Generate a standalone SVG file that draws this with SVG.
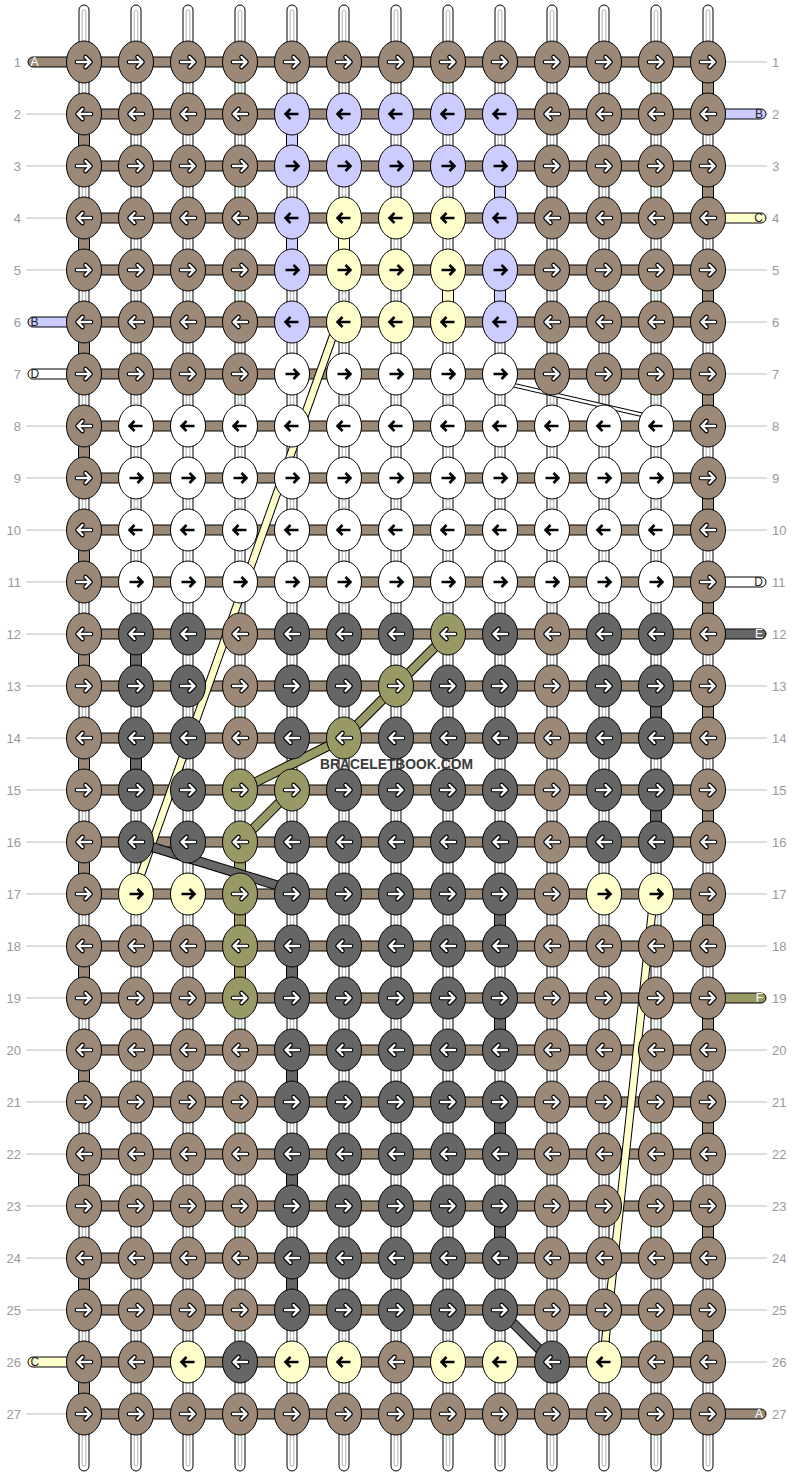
<svg xmlns="http://www.w3.org/2000/svg" width="792" height="1476" viewBox="0 0 792 1476">
<style>
.b{fill:#9b8877}.u{fill:#ccccff}.y{fill:#ffffcc}.d{fill:#666666}.o{fill:#999966}.w{fill:#ffffff}
.hc{fill:#9b8877;stroke:#000;stroke-width:1}
.vc{stroke:#000;stroke-width:1}
.gl{stroke:#bbbbbb;stroke-width:1}
.num{font-family:"Liberation Sans",Arial,sans-serif;font-size:13px;fill:#999999}
.ln{font-family:"Liberation Sans",Arial,sans-serif;font-size:12px}
.dk{fill:#222222}.lt{fill:#ffffff}
.cap{stroke:#000;stroke-width:1}
</style>
<defs>
<g id="vs"><rect x="-5" y="5" width="10" height="1466" rx="5" fill="#ffffff" stroke="#000000"/><rect x="-1.8" y="10" width="3.6" height="1456" rx="1.8" fill="none" stroke="#b0b0b0"/></g>
<g id="R"><ellipse rx="17.5" ry="21" stroke="#000000" stroke-width="1"/><path d="M-7,0H6M1.5,-5L6.5,0L1.5,5" fill="none" stroke="#000000" stroke-width="4.6" stroke-linejoin="round" stroke-linecap="round"/><path d="M-7,0H6M1.5,-5L6.5,0L1.5,5" fill="none" stroke="#ffffff" stroke-width="2.4" stroke-linejoin="round" stroke-linecap="round"/></g>
<g id="L"><ellipse rx="17.5" ry="21" stroke="#000000" stroke-width="1"/><path d="M7,0H-6M-1.5,-5L-6.5,0L-1.5,5" fill="none" stroke="#000000" stroke-width="4.6" stroke-linejoin="round" stroke-linecap="round"/><path d="M7,0H-6M-1.5,-5L-6.5,0L-1.5,5" fill="none" stroke="#ffffff" stroke-width="2.4" stroke-linejoin="round" stroke-linecap="round"/></g>
<g id="r"><ellipse rx="17.5" ry="21" stroke="#000000" stroke-width="1"/><path d="M-6.5,0H6M1.5,-5L6.5,0L1.5,5" fill="none" stroke="#000000" stroke-width="2.6" stroke-linejoin="miter"/></g>
<g id="l"><ellipse rx="17.5" ry="21" stroke="#000000" stroke-width="1"/><path d="M6.5,0H-6M-1.5,-5L-6.5,0L-1.5,5" fill="none" stroke="#000000" stroke-width="2.6" stroke-linejoin="miter"/></g>
</defs>
<rect width="792" height="1476" fill="#ffffff"/>

<g id="guides">
<g class="gl">
<line x1="26" y1="114" x2="67" y2="114"/><line x1="26" y1="166" x2="67" y2="166"/><line x1="26" y1="218" x2="67" y2="218"/><line x1="26" y1="270" x2="67" y2="270"/>
<line x1="26" y1="426" x2="67" y2="426"/><line x1="26" y1="478" x2="67" y2="478"/><line x1="26" y1="530" x2="67" y2="530"/><line x1="26" y1="582" x2="67" y2="582"/><line x1="26" y1="634" x2="67" y2="634"/><line x1="26" y1="686" x2="67" y2="686"/><line x1="26" y1="738" x2="67" y2="738"/><line x1="26" y1="790" x2="67" y2="790"/><line x1="26" y1="842" x2="67" y2="842"/><line x1="26" y1="894" x2="67" y2="894"/><line x1="26" y1="946" x2="67" y2="946"/><line x1="26" y1="998" x2="67" y2="998"/><line x1="26" y1="1050" x2="67" y2="1050"/><line x1="26" y1="1102" x2="67" y2="1102"/><line x1="26" y1="1154" x2="67" y2="1154"/><line x1="26" y1="1206" x2="67" y2="1206"/><line x1="26" y1="1258" x2="67" y2="1258"/><line x1="26" y1="1310" x2="67" y2="1310"/><line x1="26" y1="1414" x2="67" y2="1414"/>
<line x1="725" y1="62" x2="767" y2="62"/><line x1="725" y1="166" x2="767" y2="166"/><line x1="725" y1="270" x2="767" y2="270"/><line x1="725" y1="322" x2="767" y2="322"/><line x1="725" y1="374" x2="767" y2="374"/><line x1="725" y1="426" x2="767" y2="426"/><line x1="725" y1="478" x2="767" y2="478"/><line x1="725" y1="530" x2="767" y2="530"/><line x1="725" y1="686" x2="767" y2="686"/><line x1="725" y1="738" x2="767" y2="738"/><line x1="725" y1="790" x2="767" y2="790"/><line x1="725" y1="842" x2="767" y2="842"/><line x1="725" y1="894" x2="767" y2="894"/><line x1="725" y1="946" x2="767" y2="946"/><line x1="725" y1="1050" x2="767" y2="1050"/><line x1="725" y1="1102" x2="767" y2="1102"/><line x1="725" y1="1154" x2="767" y2="1154"/><line x1="725" y1="1206" x2="767" y2="1206"/><line x1="725" y1="1258" x2="767" y2="1258"/><line x1="725" y1="1310" x2="767" y2="1310"/><line x1="725" y1="1362" x2="767" y2="1362"/>
</g>
<g class="num" text-anchor="end">
<text x="21" y="66.5">1</text><text x="21" y="118.5">2</text><text x="21" y="170.5">3</text><text x="21" y="222.5">4</text><text x="21" y="274.5">5</text><text x="21" y="326.5">6</text><text x="21" y="378.5">7</text><text x="21" y="430.5">8</text><text x="21" y="482.5">9</text><text x="21" y="534.5">10</text><text x="21" y="586.5">11</text><text x="21" y="638.5">12</text><text x="21" y="690.5">13</text><text x="21" y="742.5">14</text><text x="21" y="794.5">15</text><text x="21" y="846.5">16</text><text x="21" y="898.5">17</text><text x="21" y="950.5">18</text><text x="21" y="1002.5">19</text><text x="21" y="1054.5">20</text><text x="21" y="1106.5">21</text><text x="21" y="1158.5">22</text><text x="21" y="1210.5">23</text><text x="21" y="1262.5">24</text><text x="21" y="1314.5">25</text><text x="21" y="1366.5">26</text><text x="21" y="1418.5">27</text>
</g>
<g class="num">
<text x="772" y="66.5">1</text><text x="772" y="118.5">2</text><text x="772" y="170.5">3</text><text x="772" y="222.5">4</text><text x="772" y="274.5">5</text><text x="772" y="326.5">6</text><text x="772" y="378.5">7</text><text x="772" y="430.5">8</text><text x="772" y="482.5">9</text><text x="772" y="534.5">10</text><text x="772" y="586.5">11</text><text x="772" y="638.5">12</text><text x="772" y="690.5">13</text><text x="772" y="742.5">14</text><text x="772" y="794.5">15</text><text x="772" y="846.5">16</text><text x="772" y="898.5">17</text><text x="772" y="950.5">18</text><text x="772" y="1002.5">19</text><text x="772" y="1054.5">20</text><text x="772" y="1106.5">21</text><text x="772" y="1158.5">22</text><text x="772" y="1210.5">23</text><text x="772" y="1262.5">24</text><text x="772" y="1314.5">25</text><text x="772" y="1366.5">26</text><text x="772" y="1418.5">27</text>
</g>
</g>

<g id="connectors">
<g id="strings">
<use href="#vs" x="84"/><use href="#vs" x="136"/><use href="#vs" x="188"/><use href="#vs" x="240"/><use href="#vs" x="292"/><use href="#vs" x="344"/><use href="#vs" x="396"/><use href="#vs" x="448"/><use href="#vs" x="500"/><use href="#vs" x="552"/><use href="#vs" x="604"/><use href="#vs" x="656"/><use href="#vs" x="708"/>
</g>
<g id="ends" class="cap">
<path class="b" d="M84,57H33a5,5 0 0 0 0,10H84z"/>
<path class="u" d="M84,317H33a5,5 0 0 0 0,10H84z"/>
<path class="w" d="M84,369H33a5,5 0 0 0 0,10H84z"/>
<path class="y" d="M84,1357H33a5,5 0 0 0 0,10H84z"/>
<path class="u" d="M708,109H761a5,5 0 0 1 0,10H708z"/>
<path class="y" d="M708,213H761a5,5 0 0 1 0,10H708z"/>
<path class="w" d="M708,577H761a5,5 0 0 1 0,10H708z"/>
<path class="d" d="M708,629H761a5,5 0 0 1 0,10H708z"/>
<path class="o" d="M708,993H761a5,5 0 0 1 0,10H708z"/>
<path class="b" d="M708,1409H761a5,5 0 0 1 0,10H708z"/>
</g>
<g id="rows" class="hc">
<rect x="84" y="57" width="624" height="10"/><rect x="84" y="109" width="624" height="10"/><rect x="84" y="161" width="624" height="10"/><rect x="84" y="213" width="624" height="10"/><rect x="84" y="265" width="624" height="10"/><rect x="84" y="317" width="624" height="10"/><rect x="84" y="369" width="624" height="10"/><rect x="84" y="421" width="624" height="10"/><rect x="84" y="473" width="624" height="10"/><rect x="84" y="525" width="624" height="10"/><rect x="84" y="577" width="624" height="10"/><rect x="84" y="629" width="624" height="10"/><rect x="84" y="681" width="624" height="10"/><rect x="84" y="733" width="624" height="10"/><rect x="84" y="785" width="624" height="10"/><rect x="84" y="837" width="624" height="10"/><rect x="84" y="889" width="624" height="10"/><rect x="84" y="941" width="624" height="10"/><rect x="84" y="993" width="624" height="10"/><rect x="84" y="1045" width="624" height="10"/><rect x="84" y="1097" width="624" height="10"/><rect x="84" y="1149" width="624" height="10"/><rect x="84" y="1201" width="624" height="10"/><rect x="84" y="1253" width="624" height="10"/><rect x="84" y="1305" width="624" height="10"/><rect x="84" y="1357" width="624" height="10"/><rect x="84" y="1409" width="624" height="10"/>
</g>
<g id="verticals" class="vc">
<g class="b">
<rect x="78.5" y="114" width="11" height="52"/><rect x="78.5" y="218" width="11" height="52"/><rect x="78.5" y="322" width="11" height="52"/><rect x="78.5" y="426" width="11" height="52"/><rect x="78.5" y="530" width="11" height="52"/><rect x="78.5" y="634" width="11" height="52"/><rect x="78.5" y="738" width="11" height="52"/><rect x="78.5" y="842" width="11" height="52"/><rect x="78.5" y="946" width="11" height="52"/><rect x="78.5" y="1050" width="11" height="52"/><rect x="78.5" y="1154" width="11" height="52"/><rect x="78.5" y="1258" width="11" height="52"/><rect x="78.5" y="1362" width="11" height="52"/>
<rect x="702.5" y="62" width="11" height="52"/><rect x="702.5" y="166" width="11" height="52"/><rect x="702.5" y="270" width="11" height="52"/><rect x="702.5" y="374" width="11" height="52"/><rect x="702.5" y="478" width="11" height="52"/><rect x="702.5" y="582" width="11" height="52"/><rect x="702.5" y="686" width="11" height="52"/><rect x="702.5" y="790" width="11" height="52"/><rect x="702.5" y="894" width="11" height="52"/><rect x="702.5" y="998" width="11" height="52"/><rect x="702.5" y="1102" width="11" height="52"/><rect x="702.5" y="1206" width="11" height="52"/><rect x="702.5" y="1310" width="11" height="52"/>
</g>
<g class="u"><rect x="286.5" y="114" width="11" height="52"/><rect x="494.5" y="166" width="11" height="52"/><rect x="286.5" y="218" width="11" height="52"/><rect x="494.5" y="270" width="11" height="52"/></g>
<g class="y"><rect x="338.5" y="218" width="11" height="52"/><rect x="442.5" y="270" width="11" height="52"/></g>
<g class="d"><rect x="130.5" y="634" width="11" height="52"/><rect x="650.5" y="686" width="11" height="52"/><rect x="130.5" y="738" width="11" height="52"/><rect x="650.5" y="790" width="11" height="52"/><rect x="494.5" y="894" width="11" height="52"/><rect x="286.5" y="946" width="11" height="52"/><rect x="494.5" y="998" width="11" height="52"/><rect x="286.5" y="1050" width="11" height="52"/><rect x="494.5" y="1102" width="11" height="52"/><rect x="286.5" y="1154" width="11" height="52"/><rect x="494.5" y="1206" width="11" height="52"/><rect x="286.5" y="1258" width="11" height="52"/></g>
<g class="o"><rect x="234.5" y="842" width="11" height="52"/><rect x="234.5" y="894" width="11" height="52"/><rect x="234.5" y="946" width="11" height="52"/></g>
</g>
<g id="diagonals" fill="none" stroke-linecap="butt" stroke-linejoin="round">
<line x1="338" y1="322" x2="134" y2="894" stroke="#000" stroke-width="8.5"/><line x1="338" y1="322" x2="134" y2="894" stroke="#ffffcc" stroke-width="6.5"/>
<line x1="654" y1="894" x2="603" y2="1362" stroke="#000" stroke-width="8.5"/><line x1="654" y1="894" x2="603" y2="1362" stroke="#ffffcc" stroke-width="6.5"/>
<line x1="500" y1="382" x2="656" y2="418" stroke="#000" stroke-width="4.5"/><line x1="500" y1="382" x2="656" y2="418" stroke="#ffffff" stroke-width="2.5"/>
<polyline points="448,634 396,686 344,738 240,790" stroke="#000" stroke-width="10"/><polyline points="448,634 396,686 344,738 240,790" stroke="#999966" stroke-width="8"/>
<line x1="292" y1="790" x2="240" y2="842" stroke="#000" stroke-width="10"/><line x1="292" y1="790" x2="240" y2="842" stroke="#999966" stroke-width="8"/>
<line x1="136" y1="842" x2="292" y2="890" stroke="#000" stroke-width="10"/><line x1="136" y1="842" x2="292" y2="890" stroke="#666666" stroke-width="8"/>
<line x1="500" y1="1310" x2="552" y2="1362" stroke="#000" stroke-width="10"/><line x1="500" y1="1310" x2="552" y2="1362" stroke="#666666" stroke-width="8"/>
</g>
</g>

<g id="knots">
<g id="row1" transform="translate(0,62)">
<g id="k1-1" class="b"><use href="#R" x="84"/></g><g id="k1-2" class="b"><use href="#R" x="136"/></g><g id="k1-3" class="b"><use href="#R" x="188"/></g><g id="k1-4" class="b"><use href="#R" x="240"/></g><g id="k1-5" class="b"><use href="#R" x="292"/></g><g id="k1-6" class="b"><use href="#R" x="344"/></g><g id="k1-7" class="b"><use href="#R" x="396"/></g><g id="k1-8" class="b"><use href="#R" x="448"/></g><g id="k1-9" class="b"><use href="#R" x="500"/></g><g id="k1-10" class="b"><use href="#R" x="552"/></g><g id="k1-11" class="b"><use href="#R" x="604"/></g><g id="k1-12" class="b"><use href="#R" x="656"/></g><g id="k1-13" class="b"><use href="#R" x="708"/></g>
</g>
<g id="row2" transform="translate(0,114)">
<g id="k2-1" class="b"><use href="#L" x="84"/></g><g id="k2-2" class="b"><use href="#L" x="136"/></g><g id="k2-3" class="b"><use href="#L" x="188"/></g><g id="k2-4" class="b"><use href="#L" x="240"/></g><g id="k2-5" class="u"><use href="#l" x="292"/></g><g id="k2-6" class="u"><use href="#l" x="344"/></g><g id="k2-7" class="u"><use href="#l" x="396"/></g><g id="k2-8" class="u"><use href="#l" x="448"/></g><g id="k2-9" class="u"><use href="#l" x="500"/></g><g id="k2-10" class="b"><use href="#L" x="552"/></g><g id="k2-11" class="b"><use href="#L" x="604"/></g><g id="k2-12" class="b"><use href="#L" x="656"/></g><g id="k2-13" class="b"><use href="#L" x="708"/></g>
</g>
<g id="row3" transform="translate(0,166)">
<g id="k3-1" class="b"><use href="#R" x="84"/></g><g id="k3-2" class="b"><use href="#R" x="136"/></g><g id="k3-3" class="b"><use href="#R" x="188"/></g><g id="k3-4" class="b"><use href="#R" x="240"/></g><g id="k3-5" class="u"><use href="#r" x="292"/></g><g id="k3-6" class="u"><use href="#r" x="344"/></g><g id="k3-7" class="u"><use href="#r" x="396"/></g><g id="k3-8" class="u"><use href="#r" x="448"/></g><g id="k3-9" class="u"><use href="#r" x="500"/></g><g id="k3-10" class="b"><use href="#R" x="552"/></g><g id="k3-11" class="b"><use href="#R" x="604"/></g><g id="k3-12" class="b"><use href="#R" x="656"/></g><g id="k3-13" class="b"><use href="#R" x="708"/></g>
</g>
<g id="row4" transform="translate(0,218)">
<g id="k4-1" class="b"><use href="#L" x="84"/></g><g id="k4-2" class="b"><use href="#L" x="136"/></g><g id="k4-3" class="b"><use href="#L" x="188"/></g><g id="k4-4" class="b"><use href="#L" x="240"/></g><g id="k4-5" class="u"><use href="#l" x="292"/></g><g id="k4-6" class="y"><use href="#l" x="344"/></g><g id="k4-7" class="y"><use href="#l" x="396"/></g><g id="k4-8" class="y"><use href="#l" x="448"/></g><g id="k4-9" class="u"><use href="#l" x="500"/></g><g id="k4-10" class="b"><use href="#L" x="552"/></g><g id="k4-11" class="b"><use href="#L" x="604"/></g><g id="k4-12" class="b"><use href="#L" x="656"/></g><g id="k4-13" class="b"><use href="#L" x="708"/></g>
</g>
<g id="row5" transform="translate(0,270)">
<g id="k5-1" class="b"><use href="#R" x="84"/></g><g id="k5-2" class="b"><use href="#R" x="136"/></g><g id="k5-3" class="b"><use href="#R" x="188"/></g><g id="k5-4" class="b"><use href="#R" x="240"/></g><g id="k5-5" class="u"><use href="#r" x="292"/></g><g id="k5-6" class="y"><use href="#r" x="344"/></g><g id="k5-7" class="y"><use href="#r" x="396"/></g><g id="k5-8" class="y"><use href="#r" x="448"/></g><g id="k5-9" class="u"><use href="#r" x="500"/></g><g id="k5-10" class="b"><use href="#R" x="552"/></g><g id="k5-11" class="b"><use href="#R" x="604"/></g><g id="k5-12" class="b"><use href="#R" x="656"/></g><g id="k5-13" class="b"><use href="#R" x="708"/></g>
</g>
<g id="row6" transform="translate(0,322)">
<g id="k6-1" class="b"><use href="#L" x="84"/></g><g id="k6-2" class="b"><use href="#L" x="136"/></g><g id="k6-3" class="b"><use href="#L" x="188"/></g><g id="k6-4" class="b"><use href="#L" x="240"/></g><g id="k6-5" class="u"><use href="#l" x="292"/></g><g id="k6-6" class="y"><use href="#l" x="344"/></g><g id="k6-7" class="y"><use href="#l" x="396"/></g><g id="k6-8" class="y"><use href="#l" x="448"/></g><g id="k6-9" class="u"><use href="#l" x="500"/></g><g id="k6-10" class="b"><use href="#L" x="552"/></g><g id="k6-11" class="b"><use href="#L" x="604"/></g><g id="k6-12" class="b"><use href="#L" x="656"/></g><g id="k6-13" class="b"><use href="#L" x="708"/></g>
</g>
<g id="row7" transform="translate(0,374)">
<g id="k7-1" class="b"><use href="#R" x="84"/></g><g id="k7-2" class="b"><use href="#R" x="136"/></g><g id="k7-3" class="b"><use href="#R" x="188"/></g><g id="k7-4" class="b"><use href="#R" x="240"/></g><g id="k7-5" class="w"><use href="#r" x="292"/></g><g id="k7-6" class="w"><use href="#r" x="344"/></g><g id="k7-7" class="w"><use href="#r" x="396"/></g><g id="k7-8" class="w"><use href="#r" x="448"/></g><g id="k7-9" class="w"><use href="#r" x="500"/></g><g id="k7-10" class="b"><use href="#R" x="552"/></g><g id="k7-11" class="b"><use href="#R" x="604"/></g><g id="k7-12" class="b"><use href="#R" x="656"/></g><g id="k7-13" class="b"><use href="#R" x="708"/></g>
</g>
<g id="row8" transform="translate(0,426)">
<g id="k8-1" class="b"><use href="#L" x="84"/></g><g id="k8-2" class="w"><use href="#l" x="136"/></g><g id="k8-3" class="w"><use href="#l" x="188"/></g><g id="k8-4" class="w"><use href="#l" x="240"/></g><g id="k8-5" class="w"><use href="#l" x="292"/></g><g id="k8-6" class="w"><use href="#l" x="344"/></g><g id="k8-7" class="w"><use href="#l" x="396"/></g><g id="k8-8" class="w"><use href="#l" x="448"/></g><g id="k8-9" class="w"><use href="#l" x="500"/></g><g id="k8-10" class="w"><use href="#l" x="552"/></g><g id="k8-11" class="w"><use href="#l" x="604"/></g><g id="k8-12" class="w"><use href="#l" x="656"/></g><g id="k8-13" class="b"><use href="#L" x="708"/></g>
</g>
<g id="row9" transform="translate(0,478)">
<g id="k9-1" class="b"><use href="#R" x="84"/></g><g id="k9-2" class="w"><use href="#r" x="136"/></g><g id="k9-3" class="w"><use href="#r" x="188"/></g><g id="k9-4" class="w"><use href="#r" x="240"/></g><g id="k9-5" class="w"><use href="#r" x="292"/></g><g id="k9-6" class="w"><use href="#r" x="344"/></g><g id="k9-7" class="w"><use href="#r" x="396"/></g><g id="k9-8" class="w"><use href="#r" x="448"/></g><g id="k9-9" class="w"><use href="#r" x="500"/></g><g id="k9-10" class="w"><use href="#r" x="552"/></g><g id="k9-11" class="w"><use href="#r" x="604"/></g><g id="k9-12" class="w"><use href="#r" x="656"/></g><g id="k9-13" class="b"><use href="#R" x="708"/></g>
</g>
<g id="row10" transform="translate(0,530)">
<g id="k10-1" class="b"><use href="#L" x="84"/></g><g id="k10-2" class="w"><use href="#l" x="136"/></g><g id="k10-3" class="w"><use href="#l" x="188"/></g><g id="k10-4" class="w"><use href="#l" x="240"/></g><g id="k10-5" class="w"><use href="#l" x="292"/></g><g id="k10-6" class="w"><use href="#l" x="344"/></g><g id="k10-7" class="w"><use href="#l" x="396"/></g><g id="k10-8" class="w"><use href="#l" x="448"/></g><g id="k10-9" class="w"><use href="#l" x="500"/></g><g id="k10-10" class="w"><use href="#l" x="552"/></g><g id="k10-11" class="w"><use href="#l" x="604"/></g><g id="k10-12" class="w"><use href="#l" x="656"/></g><g id="k10-13" class="b"><use href="#L" x="708"/></g>
</g>
<g id="row11" transform="translate(0,582)">
<g id="k11-1" class="b"><use href="#R" x="84"/></g><g id="k11-2" class="w"><use href="#r" x="136"/></g><g id="k11-3" class="w"><use href="#r" x="188"/></g><g id="k11-4" class="w"><use href="#r" x="240"/></g><g id="k11-5" class="w"><use href="#r" x="292"/></g><g id="k11-6" class="w"><use href="#r" x="344"/></g><g id="k11-7" class="w"><use href="#r" x="396"/></g><g id="k11-8" class="w"><use href="#r" x="448"/></g><g id="k11-9" class="w"><use href="#r" x="500"/></g><g id="k11-10" class="w"><use href="#r" x="552"/></g><g id="k11-11" class="w"><use href="#r" x="604"/></g><g id="k11-12" class="w"><use href="#r" x="656"/></g><g id="k11-13" class="b"><use href="#R" x="708"/></g>
</g>
<g id="row12" transform="translate(0,634)">
<g id="k12-1" class="b"><use href="#L" x="84"/></g><g id="k12-2" class="d"><use href="#L" x="136"/></g><g id="k12-3" class="d"><use href="#L" x="188"/></g><g id="k12-4" class="b"><use href="#L" x="240"/></g><g id="k12-5" class="d"><use href="#L" x="292"/></g><g id="k12-6" class="d"><use href="#L" x="344"/></g><g id="k12-7" class="d"><use href="#L" x="396"/></g><g id="k12-8" class="o"><use href="#L" x="448"/></g><g id="k12-9" class="d"><use href="#L" x="500"/></g><g id="k12-10" class="b"><use href="#L" x="552"/></g><g id="k12-11" class="d"><use href="#L" x="604"/></g><g id="k12-12" class="d"><use href="#L" x="656"/></g><g id="k12-13" class="b"><use href="#L" x="708"/></g>
</g>
<g id="row13" transform="translate(0,686)">
<g id="k13-1" class="b"><use href="#R" x="84"/></g><g id="k13-2" class="d"><use href="#R" x="136"/></g><g id="k13-3" class="d"><use href="#R" x="188"/></g><g id="k13-4" class="b"><use href="#R" x="240"/></g><g id="k13-5" class="d"><use href="#R" x="292"/></g><g id="k13-6" class="d"><use href="#R" x="344"/></g><g id="k13-7" class="o"><use href="#R" x="396"/></g><g id="k13-8" class="d"><use href="#R" x="448"/></g><g id="k13-9" class="d"><use href="#R" x="500"/></g><g id="k13-10" class="b"><use href="#R" x="552"/></g><g id="k13-11" class="d"><use href="#R" x="604"/></g><g id="k13-12" class="d"><use href="#R" x="656"/></g><g id="k13-13" class="b"><use href="#R" x="708"/></g>
</g>
<g id="row14" transform="translate(0,738)">
<g id="k14-1" class="b"><use href="#L" x="84"/></g><g id="k14-2" class="d"><use href="#L" x="136"/></g><g id="k14-3" class="d"><use href="#L" x="188"/></g><g id="k14-4" class="b"><use href="#L" x="240"/></g><g id="k14-5" class="d"><use href="#L" x="292"/></g><g id="k14-6" class="o"><use href="#L" x="344"/></g><g id="k14-7" class="d"><use href="#L" x="396"/></g><g id="k14-8" class="d"><use href="#L" x="448"/></g><g id="k14-9" class="d"><use href="#L" x="500"/></g><g id="k14-10" class="b"><use href="#L" x="552"/></g><g id="k14-11" class="d"><use href="#L" x="604"/></g><g id="k14-12" class="d"><use href="#L" x="656"/></g><g id="k14-13" class="b"><use href="#L" x="708"/></g>
</g>
<g id="row15" transform="translate(0,790)">
<g id="k15-1" class="b"><use href="#R" x="84"/></g><g id="k15-2" class="d"><use href="#R" x="136"/></g><g id="k15-3" class="d"><use href="#R" x="188"/></g><g id="k15-4" class="o"><use href="#R" x="240"/></g><g id="k15-5" class="o"><use href="#R" x="292"/></g><g id="k15-6" class="d"><use href="#R" x="344"/></g><g id="k15-7" class="d"><use href="#R" x="396"/></g><g id="k15-8" class="d"><use href="#R" x="448"/></g><g id="k15-9" class="d"><use href="#R" x="500"/></g><g id="k15-10" class="b"><use href="#R" x="552"/></g><g id="k15-11" class="d"><use href="#R" x="604"/></g><g id="k15-12" class="d"><use href="#R" x="656"/></g><g id="k15-13" class="b"><use href="#R" x="708"/></g>
</g>
<g id="row16" transform="translate(0,842)">
<g id="k16-1" class="b"><use href="#L" x="84"/></g><g id="k16-2" class="d"><use href="#L" x="136"/></g><g id="k16-3" class="d"><use href="#L" x="188"/></g><g id="k16-4" class="o"><use href="#L" x="240"/></g><g id="k16-5" class="d"><use href="#L" x="292"/></g><g id="k16-6" class="d"><use href="#L" x="344"/></g><g id="k16-7" class="d"><use href="#L" x="396"/></g><g id="k16-8" class="d"><use href="#L" x="448"/></g><g id="k16-9" class="d"><use href="#L" x="500"/></g><g id="k16-10" class="b"><use href="#L" x="552"/></g><g id="k16-11" class="d"><use href="#L" x="604"/></g><g id="k16-12" class="d"><use href="#L" x="656"/></g><g id="k16-13" class="b"><use href="#L" x="708"/></g>
</g>
<g id="row17" transform="translate(0,894)">
<g id="k17-1" class="b"><use href="#R" x="84"/></g><g id="k17-2" class="y"><use href="#r" x="136"/></g><g id="k17-3" class="y"><use href="#r" x="188"/></g><g id="k17-4" class="o"><use href="#R" x="240"/></g><g id="k17-5" class="d"><use href="#R" x="292"/></g><g id="k17-6" class="d"><use href="#R" x="344"/></g><g id="k17-7" class="d"><use href="#R" x="396"/></g><g id="k17-8" class="d"><use href="#R" x="448"/></g><g id="k17-9" class="d"><use href="#R" x="500"/></g><g id="k17-10" class="b"><use href="#R" x="552"/></g><g id="k17-11" class="y"><use href="#r" x="604"/></g><g id="k17-12" class="y"><use href="#r" x="656"/></g><g id="k17-13" class="b"><use href="#R" x="708"/></g>
</g>
<g id="row18" transform="translate(0,946)">
<g id="k18-1" class="b"><use href="#L" x="84"/></g><g id="k18-2" class="b"><use href="#L" x="136"/></g><g id="k18-3" class="b"><use href="#L" x="188"/></g><g id="k18-4" class="o"><use href="#L" x="240"/></g><g id="k18-5" class="d"><use href="#L" x="292"/></g><g id="k18-6" class="d"><use href="#L" x="344"/></g><g id="k18-7" class="d"><use href="#L" x="396"/></g><g id="k18-8" class="d"><use href="#L" x="448"/></g><g id="k18-9" class="d"><use href="#L" x="500"/></g><g id="k18-10" class="b"><use href="#L" x="552"/></g><g id="k18-11" class="b"><use href="#L" x="604"/></g><g id="k18-12" class="b"><use href="#L" x="656"/></g><g id="k18-13" class="b"><use href="#L" x="708"/></g>
</g>
<g id="row19" transform="translate(0,998)">
<g id="k19-1" class="b"><use href="#R" x="84"/></g><g id="k19-2" class="b"><use href="#R" x="136"/></g><g id="k19-3" class="b"><use href="#R" x="188"/></g><g id="k19-4" class="o"><use href="#R" x="240"/></g><g id="k19-5" class="d"><use href="#R" x="292"/></g><g id="k19-6" class="d"><use href="#R" x="344"/></g><g id="k19-7" class="d"><use href="#R" x="396"/></g><g id="k19-8" class="d"><use href="#R" x="448"/></g><g id="k19-9" class="d"><use href="#R" x="500"/></g><g id="k19-10" class="b"><use href="#R" x="552"/></g><g id="k19-11" class="b"><use href="#R" x="604"/></g><g id="k19-12" class="b"><use href="#R" x="656"/></g><g id="k19-13" class="b"><use href="#R" x="708"/></g>
</g>
<g id="row20" transform="translate(0,1050)">
<g id="k20-1" class="b"><use href="#L" x="84"/></g><g id="k20-2" class="b"><use href="#L" x="136"/></g><g id="k20-3" class="b"><use href="#L" x="188"/></g><g id="k20-4" class="b"><use href="#L" x="240"/></g><g id="k20-5" class="d"><use href="#L" x="292"/></g><g id="k20-6" class="d"><use href="#L" x="344"/></g><g id="k20-7" class="d"><use href="#L" x="396"/></g><g id="k20-8" class="d"><use href="#L" x="448"/></g><g id="k20-9" class="d"><use href="#L" x="500"/></g><g id="k20-10" class="b"><use href="#L" x="552"/></g><g id="k20-11" class="b"><use href="#L" x="604"/></g><g id="k20-12" class="b"><use href="#L" x="656"/></g><g id="k20-13" class="b"><use href="#L" x="708"/></g>
</g>
<g id="row21" transform="translate(0,1102)">
<g id="k21-1" class="b"><use href="#R" x="84"/></g><g id="k21-2" class="b"><use href="#R" x="136"/></g><g id="k21-3" class="b"><use href="#R" x="188"/></g><g id="k21-4" class="b"><use href="#R" x="240"/></g><g id="k21-5" class="d"><use href="#R" x="292"/></g><g id="k21-6" class="d"><use href="#R" x="344"/></g><g id="k21-7" class="d"><use href="#R" x="396"/></g><g id="k21-8" class="d"><use href="#R" x="448"/></g><g id="k21-9" class="d"><use href="#R" x="500"/></g><g id="k21-10" class="b"><use href="#R" x="552"/></g><g id="k21-11" class="b"><use href="#R" x="604"/></g><g id="k21-12" class="b"><use href="#R" x="656"/></g><g id="k21-13" class="b"><use href="#R" x="708"/></g>
</g>
<g id="row22" transform="translate(0,1154)">
<g id="k22-1" class="b"><use href="#L" x="84"/></g><g id="k22-2" class="b"><use href="#L" x="136"/></g><g id="k22-3" class="b"><use href="#L" x="188"/></g><g id="k22-4" class="b"><use href="#L" x="240"/></g><g id="k22-5" class="d"><use href="#L" x="292"/></g><g id="k22-6" class="d"><use href="#L" x="344"/></g><g id="k22-7" class="d"><use href="#L" x="396"/></g><g id="k22-8" class="d"><use href="#L" x="448"/></g><g id="k22-9" class="d"><use href="#L" x="500"/></g><g id="k22-10" class="b"><use href="#L" x="552"/></g><g id="k22-11" class="b"><use href="#L" x="604"/></g><g id="k22-12" class="b"><use href="#L" x="656"/></g><g id="k22-13" class="b"><use href="#L" x="708"/></g>
</g>
<g id="row23" transform="translate(0,1206)">
<g id="k23-1" class="b"><use href="#R" x="84"/></g><g id="k23-2" class="b"><use href="#R" x="136"/></g><g id="k23-3" class="b"><use href="#R" x="188"/></g><g id="k23-4" class="b"><use href="#R" x="240"/></g><g id="k23-5" class="d"><use href="#R" x="292"/></g><g id="k23-6" class="d"><use href="#R" x="344"/></g><g id="k23-7" class="d"><use href="#R" x="396"/></g><g id="k23-8" class="d"><use href="#R" x="448"/></g><g id="k23-9" class="d"><use href="#R" x="500"/></g><g id="k23-10" class="b"><use href="#R" x="552"/></g><g id="k23-11" class="b"><use href="#R" x="604"/></g><g id="k23-12" class="b"><use href="#R" x="656"/></g><g id="k23-13" class="b"><use href="#R" x="708"/></g>
</g>
<g id="row24" transform="translate(0,1258)">
<g id="k24-1" class="b"><use href="#L" x="84"/></g><g id="k24-2" class="b"><use href="#L" x="136"/></g><g id="k24-3" class="b"><use href="#L" x="188"/></g><g id="k24-4" class="b"><use href="#L" x="240"/></g><g id="k24-5" class="d"><use href="#L" x="292"/></g><g id="k24-6" class="d"><use href="#L" x="344"/></g><g id="k24-7" class="d"><use href="#L" x="396"/></g><g id="k24-8" class="d"><use href="#L" x="448"/></g><g id="k24-9" class="d"><use href="#L" x="500"/></g><g id="k24-10" class="b"><use href="#L" x="552"/></g><g id="k24-11" class="b"><use href="#L" x="604"/></g><g id="k24-12" class="b"><use href="#L" x="656"/></g><g id="k24-13" class="b"><use href="#L" x="708"/></g>
</g>
<g id="row25" transform="translate(0,1310)">
<g id="k25-1" class="b"><use href="#R" x="84"/></g><g id="k25-2" class="b"><use href="#R" x="136"/></g><g id="k25-3" class="b"><use href="#R" x="188"/></g><g id="k25-4" class="b"><use href="#R" x="240"/></g><g id="k25-5" class="d"><use href="#R" x="292"/></g><g id="k25-6" class="d"><use href="#R" x="344"/></g><g id="k25-7" class="d"><use href="#R" x="396"/></g><g id="k25-8" class="d"><use href="#R" x="448"/></g><g id="k25-9" class="d"><use href="#R" x="500"/></g><g id="k25-10" class="b"><use href="#R" x="552"/></g><g id="k25-11" class="b"><use href="#R" x="604"/></g><g id="k25-12" class="b"><use href="#R" x="656"/></g><g id="k25-13" class="b"><use href="#R" x="708"/></g>
</g>
<g id="row26" transform="translate(0,1362)">
<g id="k26-1" class="b"><use href="#L" x="84"/></g><g id="k26-2" class="b"><use href="#L" x="136"/></g><g id="k26-3" class="y"><use href="#l" x="188"/></g><g id="k26-4" class="d"><use href="#L" x="240"/></g><g id="k26-5" class="y"><use href="#l" x="292"/></g><g id="k26-6" class="y"><use href="#l" x="344"/></g><g id="k26-7" class="b"><use href="#L" x="396"/></g><g id="k26-8" class="y"><use href="#l" x="448"/></g><g id="k26-9" class="y"><use href="#l" x="500"/></g><g id="k26-10" class="d"><use href="#L" x="552"/></g><g id="k26-11" class="y"><use href="#l" x="604"/></g><g id="k26-12" class="b"><use href="#L" x="656"/></g><g id="k26-13" class="b"><use href="#L" x="708"/></g>
</g>
<g id="row27" transform="translate(0,1414)">
<g id="k27-1" class="b"><use href="#R" x="84"/></g><g id="k27-2" class="b"><use href="#R" x="136"/></g><g id="k27-3" class="b"><use href="#R" x="188"/></g><g id="k27-4" class="b"><use href="#R" x="240"/></g><g id="k27-5" class="b"><use href="#R" x="292"/></g><g id="k27-6" class="b"><use href="#R" x="344"/></g><g id="k27-7" class="b"><use href="#R" x="396"/></g><g id="k27-8" class="b"><use href="#R" x="448"/></g><g id="k27-9" class="b"><use href="#R" x="500"/></g><g id="k27-10" class="b"><use href="#R" x="552"/></g><g id="k27-11" class="b"><use href="#R" x="604"/></g><g id="k27-12" class="b"><use href="#R" x="656"/></g><g id="k27-13" class="b"><use href="#R" x="708"/></g>
</g>
</g>

<g id="end-labels" class="ln">
<text class="lt" x="30.5" y="66.3">A</text>
<text class="dk" x="30.5" y="326.3">B</text>
<text class="dk" x="30.5" y="378.3">D</text>
<text class="dk" x="30.5" y="1366.3">C</text>
<text class="dk" x="763" y="118.3" text-anchor="end">B</text>
<text class="dk" x="763" y="222.3" text-anchor="end">C</text>
<text class="dk" x="763" y="586.3" text-anchor="end">D</text>
<text class="lt" x="763" y="638.3" text-anchor="end">E</text>
<text class="lt" x="763" y="1002.3" text-anchor="end">F</text>
<text class="lt" x="763" y="1418.3" text-anchor="end">A</text>
</g>

<text id="watermark" x="396.5" y="769" text-anchor="middle" font-family="Liberation Sans, Arial, sans-serif" font-weight="bold" font-size="15" fill="#3a3a3a" textLength="153" lengthAdjust="spacingAndGlyphs">BRACELETBOOK.COM</text>
</svg>
